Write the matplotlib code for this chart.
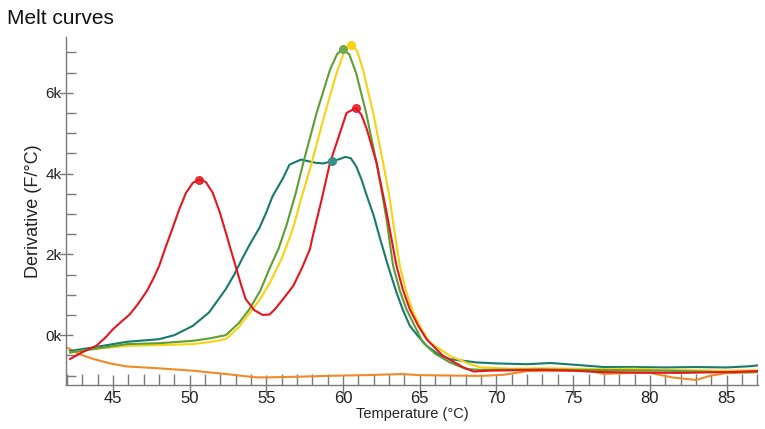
import matplotlib
matplotlib.use("Agg")
import matplotlib.pyplot as plt
from matplotlib.ticker import MultipleLocator

plt.rcParams['font.family'] = ['Liberation Sans', 'DejaVu Sans']

# ---- data (temperature °C, derivative F/°C) ----
red_t = [42.2, 43.0, 43.9, 44.5, 45.0, 45.5, 46.1, 46.6, 47.2, 47.6, 48.0, 48.4, 48.85, 49.3, 49.75,
         50.2, 50.62, 51.05, 51.5, 51.95, 52.35, 52.7, 53.05, 53.35, 53.65, 54.2, 54.75, 55.2, 55.55,
         56.1, 56.75, 57.3, 57.83, 58.05, 58.6, 59.14, 59.7, 60.22, 60.83, 61.2, 61.55, 62.18,
         62.83, 63.48, 63.9, 64.35, 64.9, 65.44, 66.5, 67.8, 68.5, 69.5, 71, 73, 75, 76.5, 78, 80,
         82, 84, 85.5, 87]
red_v = [-590, -420, -265, -60, 150, 320, 520, 760, 1090, 1380, 1710, 2150, 2620, 3100, 3520,
         3770, 3852, 3790, 3520, 3050, 2540, 2080, 1630, 1240, 890, 620, 500, 510, 640,
         900, 1220, 1650, 2123, 2500, 3358, 4264, 4900, 5500, 5622, 5450, 5090, 4264,
         3050, 1711, 1120, 640, 230, -100, -510, -790, -900, -880, -870, -860, -880, -910, -920,
         -930, -935, -920, -910, -890]

teal_t = [42.2, 43.7, 45.9, 48.0, 49.0, 50.2, 51.25, 52.35, 52.9, 53.4, 53.95, 54.55, 55.0, 55.4,
          56.1, 56.5, 57.25, 57.8, 58.25, 58.7, 59.25, 59.7, 60.15, 60.5, 60.85, 61.2, 61.5, 62.0,
          62.4, 62.9, 63.48, 63.9, 64.35, 64.9, 65.44, 66.2, 66.95, 68.7, 70, 72, 73.5, 75, 77, 79,
          81, 83, 85, 86.5, 87]
teal_v = [-390, -305, -165, -100, 0, 230, 560, 1140, 1500, 1880, 2270, 2660, 3050, 3440,
          3900, 4220, 4346, 4300, 4264, 4250, 4304, 4350, 4412, 4380, 4180, 3850, 3500, 2950,
          2400, 1750, 1054, 620, 230, -30, -264, -470, -593, -675, -700, -720, -690, -730, -790,
          -790, -800, -790, -800, -770, -750]

green_t = [42.2, 43.7, 45.9, 48.0, 50.2, 51.3, 52.35, 53.2, 53.9, 54.6, 55.2, 55.8, 56.33, 56.9,
           57.4, 58.27, 59.14, 59.6, 59.96, 60.4, 60.85, 61.5, 62.18, 62.61, 62.83, 63.26, 63.7,
           64.13, 65.2, 66.0, 66.95, 68.03, 69, 71, 73, 75, 77, 79, 81, 83, 85, 87]
green_v = [-430, -345, -222, -200, -140, -80, 0, 300, 650, 1100, 1650, 2150, 2750, 3500,
           4264, 5500, 6567, 6950, 7086, 6950, 6486, 5500, 4264, 3358, 2864, 1711, 1100,
           640, -181, -460, -675, -840, -860, -855, -850, -860, -865, -870, -880, -900, -920, -910]

yellow_t = [42.2, 43.7, 45.9, 48.0, 50.2, 51.3, 52.35, 53.2, 53.93, 54.6, 55.23, 56.0, 56.55, 56.85,
            57.2, 57.83, 58.7, 59.57, 60.1, 60.5, 60.9, 61.3, 61.96, 62.61, 63.05, 63.26, 63.7,
            64.1, 64.57, 65.1, 65.65, 66.95, 68.25, 69, 71, 73, 75, 77, 79, 81, 83, 85, 87]
yellow_v = [-430, -345, -264, -247, -222, -170, -100, 200, 560, 900, 1300, 1900, 2450, 2800,
            3300, 4100, 5333, 6486, 7050, 7185, 7050, 6567, 5500, 4264, 3358, 2782, 1711,
            1100, 560, 150, -181, -510, -716, -800, -830, -820, -830, -840, -830, -860, -870, -880,
            -870]

orange_t = [41.95, 42.8, 43.7, 44.8, 45.9, 48.0, 50.2, 52.35, 54.3, 55.1, 57, 59.4, 61.5, 63.8, 65,
            67, 69, 70.5, 72, 74, 76, 77, 78.5, 80, 81.5, 83, 84, 85, 87]
orange_v = [-300, -470, -590, -700, -775, -822, -880, -963, -1045, -1045, -1030, -1004, -990, -963,
            -990, -1000, -1010, -980, -890, -880, -880, -960, -940, -930, -1050, -1110, -1000, -940,
            -920]

# peak markers
red_peaks_t = [50.62, 60.83]
red_peaks_v = [3852, 5622]
teal_peak = (59.25, 4304)
green_peak = (59.96, 7086)
yellow_peak = (60.5, 7185)

y_ticks = [0, 2000, 4000, 6000]
y_labels = ['0k', '2k', '4k', '6k']
x_ticks = [45, 50, 55, 60, 65, 70, 75, 80, 85]

c_red = '#e5161f'
c_teal = '#177a6c'
c_green = '#5e9e34'
c_yellow = '#f6d20f'
c_orange = '#f08a26'

fig = plt.figure(figsize=(7.65, 4.29), dpi=100)
ax = fig.add_axes([0.0863, 0.1025, 0.9045, 0.8112])

lw = 1.5
ax.plot(orange_t, orange_v, color=c_orange, lw=lw)
ax.plot(teal_t, teal_v, color=c_teal, lw=lw)
ax.plot(yellow_t, yellow_v, color=c_yellow, lw=lw)
ax.plot(green_t, green_v, color=c_green, lw=lw)
ax.plot(red_t, red_v, color=c_red, lw=lw)

ms = 5.5
ax.plot(red_peaks_t, red_peaks_v, 'o', color=c_red, ms=ms, alpha=0.85)
ax.plot([teal_peak[0]], [teal_peak[1]], 'o', color='#3a8f86', ms=ms)
ax.plot([green_peak[0]], [green_peak[1]], 'o', color='#74a94a', ms=ms)
ax.plot([yellow_peak[0]], [yellow_peak[1]], 'o', color=c_yellow, ms=ms)

ax.set_xlim(41.93, 87.05)
ax.set_ylim(-1235, 7380)

for s in ['top', 'right']:
    ax.spines[s].set_visible(False)
for s in ['left', 'bottom']:
    ax.spines[s].set_color('#7a7a7a')
    ax.spines[s].set_linewidth(1.0)

ax.set_yticks(y_ticks)
ax.set_yticklabels(y_labels)
ax.yaxis.set_minor_locator(MultipleLocator(500))
ax.set_xticks(x_ticks)
ax.xaxis.set_minor_locator(MultipleLocator(1))

ax.tick_params(axis='y', which='major', direction='inout', length=10, width=1.0, color='#7a7a7a',
               labelsize=11, labelcolor='#222222', pad=-2)
ax.tick_params(axis='y', which='minor', direction='in', length=7, width=1.0, color='#7a7a7a')
ax.tick_params(axis='x', which='major', direction='inout', length=15, width=1.0, color='#7a7a7a',
               labelsize=12, labelcolor='#222222', pad=-3)
ax.tick_params(axis='x', which='minor', direction='in', length=8, width=1.0, color='#7a7a7a')

ax.set_xlabel('Temperature (°C)', fontsize=10.5, color='#222222')
ax.xaxis.set_label_coords(0.5, -0.062)
ax.set_ylabel('Derivative (F/°C)', fontsize=13, color='#222222')
ax.yaxis.set_label_coords(-0.034, 0.5)

fig.text(0.009, 0.958, 'Melt curves', fontsize=15, color='#111111', va='center', ha='left')

fig.savefig('out.png', dpi=100, facecolor='white')
